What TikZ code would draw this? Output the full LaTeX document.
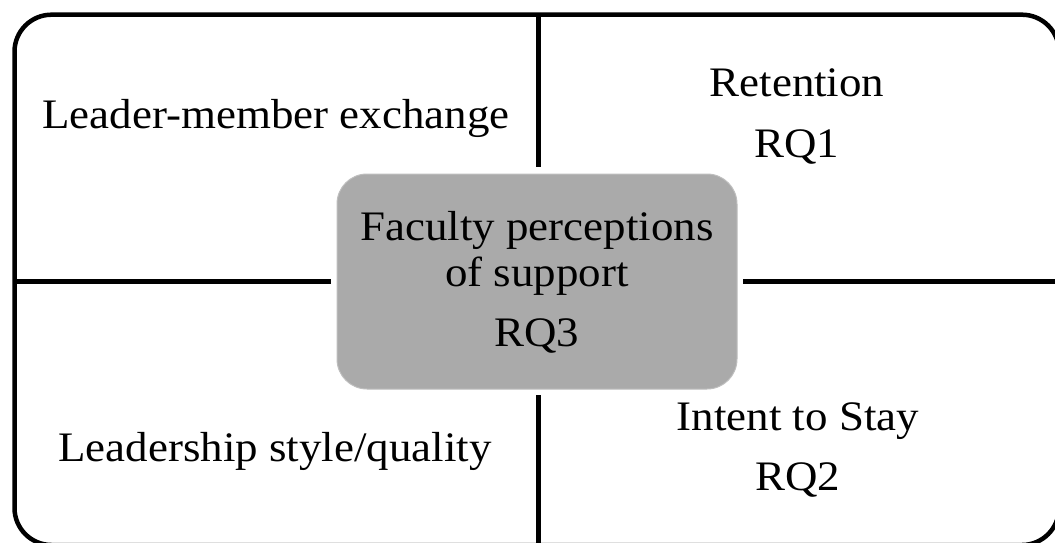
\documentclass[tikz,border=0pt]{standalone}
\usepackage{fontspec}
\setmainfont{Liberation Serif}[FakeStretch=1.07]
\definecolor{boxgray}{RGB}{170,170,170}
\definecolor{boxedge}{RGB}{190,190,190}
\begin{document}
\begin{tikzpicture}[x=1pt,y=-1pt,
  frame/.style={line width=4.5pt, rounded corners=37pt},
  divider/.style={line width=5pt},
  lbl/.style={font=\fontsize{42}{50}\selectfont, anchor=base, inner sep=0pt},
  centerbox/.style={fill=boxgray, draw=boxedge, line width=1pt, rounded corners=30pt,
    minimum width=400pt, minimum height=215pt, inner sep=0pt}]
\clip (0,0) rectangle (1055,543);
\draw[frame] (14.5,14.7) rectangle (1059,545);
\node[centerbox] (center) at (537,281.5) {};
\coordinate (top) at (538.5,14.7);
\coordinate (topend) at (538.5,167);
\coordinate (botstart) at (538.5,395);
\coordinate (bot) at (538.5,545);
\coordinate (left) at (14.5,281.7);
\coordinate (leftend) at (331,281.7);
\coordinate (rightstart) at (743,281.7);
\coordinate (right) at (1059,281.7);
\draw[divider] (top) -- (topend);
\draw[divider] (botstart) -- (bot);
\draw[divider] (left) -- (leftend);
\draw[divider] (rightstart) -- (right);
\node[lbl] (lmx) at (276,128) {Leader-member exchange};
\node[lbl] (ret) at (797,96) {Retention};
\node[lbl] (rq1) at (797,157.7) {RQ1};
\node[lbl] (fac) at (537,240) {Faculty perceptions};
\node[lbl] (sup) at (537,286) {of support};
\node[lbl] (rq3) at (537,346.7) {RQ3};
\node[lbl] (lsq) at (275,461.7) {Leadership style/quality};
\node[lbl] (its) at (798,430.7) {Intent to Stay};
\node[lbl] (rq2) at (798,490) {RQ2};
\end{tikzpicture}
\end{document}
